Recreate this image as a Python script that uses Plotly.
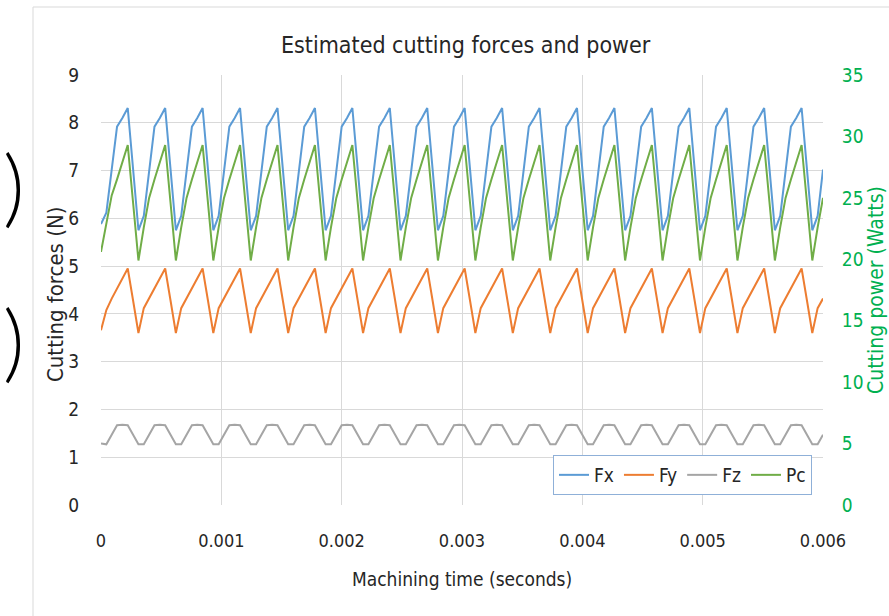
import plotly.graph_objects as go

# Sampling of the simulated signals (uniform step over 0 .. 0.006 s)
N_SAMPLES = 136
T_END = 0.006
time_s = [T_END * i / (N_SAMPLES - 1) for i in range(N_SAMPLES)]

# Estimated cutting force Fx (N)
fx = [
    5.88, 6.12, 7.02, 7.92, 8.10, 8.31, 7.03,
    5.75, 6.05, 7.02, 7.92, 8.10, 8.31, 7.03,
    5.75, 6.05, 7.02, 7.92, 8.10, 8.31, 7.03,
    5.75, 6.05, 7.02, 7.92, 8.10, 8.31, 7.03,
    5.75, 6.05, 7.02, 7.92, 8.10, 8.31, 7.03,
    5.75, 6.05, 7.02, 7.92, 8.10, 8.31, 7.03,
    5.75, 6.05, 7.02, 7.92, 8.10, 8.31, 7.03,
    5.75, 6.05, 7.02, 7.92, 8.10, 8.31, 7.03,
    5.75, 6.05, 7.02, 7.92, 8.10, 8.31, 7.03,
    5.75, 6.05, 7.02, 7.92, 8.10, 8.31, 7.03,
    5.75, 6.05, 7.02, 7.92, 8.10, 8.31, 7.03,
    5.75, 6.05, 7.02, 7.92, 8.10, 8.31, 7.03,
    5.75, 6.05, 7.02, 7.92, 8.10, 8.31, 7.03,
    5.75, 6.05, 7.02, 7.92, 8.10, 8.31, 7.03,
    5.75, 6.05, 7.02, 7.92, 8.10, 8.31, 7.03,
    5.75, 6.05, 7.02, 7.92, 8.10, 8.31, 7.03,
    5.75, 6.05, 7.02, 7.92, 8.10, 8.31, 7.03,
    5.75, 6.05, 7.02, 7.92, 8.10, 8.31, 7.03,
    5.75, 6.05, 7.02, 7.92, 8.10, 8.31, 7.03,
    5.75, 6.05, 7.02,
]

# Estimated cutting force Fy (N)
fy = [
    3.66, 4.08, 4.32, 4.53, 4.74, 4.95, 4.28,
    3.60, 4.12, 4.32, 4.53, 4.74, 4.95, 4.28,
    3.60, 4.12, 4.32, 4.53, 4.74, 4.95, 4.28,
    3.60, 4.12, 4.32, 4.53, 4.74, 4.95, 4.28,
    3.60, 4.12, 4.32, 4.53, 4.74, 4.95, 4.28,
    3.60, 4.12, 4.32, 4.53, 4.74, 4.95, 4.28,
    3.60, 4.12, 4.32, 4.53, 4.74, 4.95, 4.28,
    3.60, 4.12, 4.32, 4.53, 4.74, 4.95, 4.28,
    3.60, 4.12, 4.32, 4.53, 4.74, 4.95, 4.28,
    3.60, 4.12, 4.32, 4.53, 4.74, 4.95, 4.28,
    3.60, 4.12, 4.32, 4.53, 4.74, 4.95, 4.28,
    3.60, 4.12, 4.32, 4.53, 4.74, 4.95, 4.28,
    3.60, 4.12, 4.32, 4.53, 4.74, 4.95, 4.28,
    3.60, 4.12, 4.32, 4.53, 4.74, 4.95, 4.28,
    3.60, 4.12, 4.32, 4.53, 4.74, 4.95, 4.28,
    3.60, 4.12, 4.32, 4.53, 4.74, 4.95, 4.28,
    3.60, 4.12, 4.32, 4.53, 4.74, 4.95, 4.28,
    3.60, 4.12, 4.32, 4.53, 4.74, 4.95, 4.28,
    3.60, 4.12, 4.32, 4.53, 4.74, 4.95, 4.28,
    3.60, 4.12, 4.32,
]

# Estimated cutting force Fz (N)
fz = [
    1.29, 1.27, 1.47, 1.67, 1.68, 1.67, 1.47,
    1.27, 1.27, 1.47, 1.67, 1.68, 1.67, 1.47,
    1.27, 1.27, 1.47, 1.67, 1.68, 1.67, 1.47,
    1.27, 1.27, 1.47, 1.67, 1.68, 1.67, 1.47,
    1.27, 1.27, 1.47, 1.67, 1.68, 1.67, 1.47,
    1.27, 1.27, 1.47, 1.67, 1.68, 1.67, 1.47,
    1.27, 1.27, 1.47, 1.67, 1.68, 1.67, 1.47,
    1.27, 1.27, 1.47, 1.67, 1.68, 1.67, 1.47,
    1.27, 1.27, 1.47, 1.67, 1.68, 1.67, 1.47,
    1.27, 1.27, 1.47, 1.67, 1.68, 1.67, 1.47,
    1.27, 1.27, 1.47, 1.67, 1.68, 1.67, 1.47,
    1.27, 1.27, 1.47, 1.67, 1.68, 1.67, 1.47,
    1.27, 1.27, 1.47, 1.67, 1.68, 1.67, 1.47,
    1.27, 1.27, 1.47, 1.67, 1.68, 1.67, 1.47,
    1.27, 1.27, 1.47, 1.67, 1.68, 1.67, 1.47,
    1.27, 1.27, 1.47, 1.67, 1.68, 1.67, 1.47,
    1.27, 1.27, 1.47, 1.67, 1.68, 1.67, 1.47,
    1.27, 1.27, 1.47, 1.67, 1.68, 1.67, 1.47,
    1.27, 1.27, 1.47, 1.67, 1.68, 1.67, 1.47,
    1.27, 1.27, 1.47,
]

# Estimated cutting power Pc (W)
pc = [
    20.6, 22.9, 25.2, 26.5, 27.9, 29.3, 24.6,
    19.9, 22.6, 25.0, 26.5, 27.9, 29.3, 24.6,
    19.9, 22.6, 25.0, 26.5, 27.9, 29.3, 24.6,
    19.9, 22.6, 25.0, 26.5, 27.9, 29.3, 24.6,
    19.9, 22.6, 25.0, 26.5, 27.9, 29.3, 24.6,
    19.9, 22.6, 25.0, 26.5, 27.9, 29.3, 24.6,
    19.9, 22.6, 25.0, 26.5, 27.9, 29.3, 24.6,
    19.9, 22.6, 25.0, 26.5, 27.9, 29.3, 24.6,
    19.9, 22.6, 25.0, 26.5, 27.9, 29.3, 24.6,
    19.9, 22.6, 25.0, 26.5, 27.9, 29.3, 24.6,
    19.9, 22.6, 25.0, 26.5, 27.9, 29.3, 24.6,
    19.9, 22.6, 25.0, 26.5, 27.9, 29.3, 24.6,
    19.9, 22.6, 25.0, 26.5, 27.9, 29.3, 24.6,
    19.9, 22.6, 25.0, 26.5, 27.9, 29.3, 24.6,
    19.9, 22.6, 25.0, 26.5, 27.9, 29.3, 24.6,
    19.9, 22.6, 25.0, 26.5, 27.9, 29.3, 24.6,
    19.9, 22.6, 25.0, 26.5, 27.9, 29.3, 24.6,
    19.9, 22.6, 25.0, 26.5, 27.9, 29.3, 24.6,
    19.9, 22.6, 25.0, 26.5, 27.9, 29.3, 24.6,
    19.9, 22.6, 25.0,
]

x_tick_vals = [0, 0.001, 0.002, 0.003, 0.004, 0.005, 0.006]
x_tick_text = ["0", "0.001", "0.002", "0.003", "0.004", "0.005", "0.006"]
force_ticks = [0, 1, 2, 3, 4, 5, 6, 7, 8, 9]
power_ticks = [0, 5, 10, 15, 20, 25, 30, 35]

FONT = "DejaVu Sans Condensed, DejaVu Sans, sans-serif"
TEXT = "#262626"
GREEN = "#00B050"
GRID = "#D9D9D9"

W, H = 889, 616
L, R, T, B = 101, 66, 75, 111
PW, PH = W - L - R, H - T - B


def px(xp):
    return (xp - L) / PW


def py(yp):
    return (H - B - yp) / PH


fig = go.Figure()
line_w = 2
fig.add_trace(go.Scatter(x=time_s, y=fx, name="Fx", mode="lines",
                         line=dict(color="#5B9BD5", width=line_w)))
fig.add_trace(go.Scatter(x=time_s, y=fy, name="Fy", mode="lines",
                         line=dict(color="#ED7D31", width=line_w)))
fig.add_trace(go.Scatter(x=time_s, y=fz, name="Fz", mode="lines",
                         line=dict(color="#A5A5A5", width=line_w)))
fig.add_trace(go.Scatter(x=time_s, y=pc, name="Pc", mode="lines", yaxis="y2",
                         line=dict(color="#70AD47", width=line_w)))

fig.update_layout(
    width=W, height=H,
    margin=dict(l=L, r=R, t=T, b=B, autoexpand=False),
    paper_bgcolor="white", plot_bgcolor="white",
    font=dict(family=FONT, color=TEXT, size=18),
    showlegend=True,
    legend=dict(
        orientation="h", x=px(812), xanchor="right", y=py(455), yanchor="top",
        bgcolor="white", bordercolor="#8FB0D8", borderwidth=1,
        font=dict(family=FONT, size=19, color=TEXT),
        itemwidth=30, tracegroupgap=0,
    ),
    xaxis=dict(
        range=[0, 0.006], tickvals=x_tick_vals, ticktext=x_tick_text,
        showgrid=True, gridcolor=GRID, gridwidth=1, zeroline=False,
        showline=False, ticks="outside", ticklen=19, tickcolor="rgba(0,0,0,0)",
        tickfont=dict(family=FONT, size=18, color=TEXT),
    ),
    yaxis=dict(
        range=[0, 9], tickvals=force_ticks,
        showgrid=True, gridcolor=GRID, gridwidth=1, zeroline=False,
        showline=False, ticks="outside", ticklen=17, tickcolor="rgba(0,0,0,0)",
        tickfont=dict(family=FONT, size=19, color=TEXT),
    ),
    yaxis2=dict(
        range=[0, 35], tickvals=power_ticks, overlaying="y", side="right",
        showgrid=False, zeroline=False, showline=False,
        ticks="outside", ticklen=14, tickcolor="rgba(0,0,0,0)",
        tickfont=dict(family=FONT, size=19, color=GREEN),
    ),
    shapes=[
        dict(type="rect", xref="paper", yref="paper",
             x0=px(33), x1=px(900), y0=py(630), y1=py(7),
             line=dict(color=GRID, width=1), fillcolor="rgba(0,0,0,0)",
             layer="below"),
    ],
    annotations=[
        dict(text="Estimated cutting forces and power", xref="paper", yref="paper",
             x=px(466), y=py(45), xanchor="center", yanchor="middle",
             showarrow=False, font=dict(family=FONT, size=23, color=TEXT)),
        dict(text="Cutting forces (N)", xref="paper", yref="paper",
             x=px(55), y=py(295), xanchor="center", yanchor="middle",
             textangle=-90, showarrow=False, font=dict(family=FONT, size=22, color=TEXT)),
        dict(text="Cutting power (Watts)", xref="paper", yref="paper",
             x=px(876), y=py(290), xanchor="center", yanchor="middle",
             textangle=-90, showarrow=False, font=dict(family=FONT, size=21, color=GREEN)),
        dict(text="Machining time (seconds)", xref="paper", yref="paper",
             x=px(462), y=py(579), xanchor="center", yanchor="middle",
             showarrow=False, font=dict(family=FONT, size=19, color=TEXT)),
        dict(text=")", xref="paper", yref="paper",
             x=px(26), y=py(184), xanchor="right", yanchor="middle", borderpad=0,
             showarrow=False, font=dict(family="Lato", size=84, weight=300, color="#000000")),
        dict(text=")", xref="paper", yref="paper",
             x=px(26), y=py(339), xanchor="right", yanchor="middle", borderpad=0,
             showarrow=False, font=dict(family="Lato", size=84, weight=300, color="#000000")),
    ],
)

fig.write_html("out.html", config={"displayModeBar": False})
